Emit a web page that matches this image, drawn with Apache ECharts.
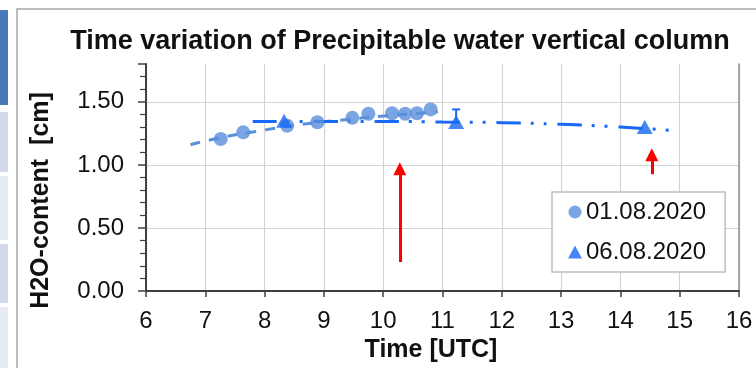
<!DOCTYPE html>
<html>
<head>
<meta charset="utf-8">
<script src="https://cdn.jsdelivr.net/npm/echarts@6/dist/echarts.min.js"></script>
<style>
  html, body { margin: 0; padding: 0; background: #fff; }
  #chart { width: 756px; height: 368px; }
</style>
</head>
<body>
<div id="chart"></div>
<script>
// 01.08.2020 measurements [time UTC, cm]
const day1Points = [
  [7.26, 1.205], [7.64, 1.258], [8.38, 1.31], [8.89, 1.338], [9.48, 1.373],
  [9.75, 1.405], [10.15, 1.41], [10.37, 1.405], [10.57, 1.41], [10.80, 1.44]
]
// 06.08.2020 measurements
const day2Points = [[8.33, 1.35], [11.23, 1.34], [14.41, 1.30]]
// error bar on 06.08 [x, low, high]
const day2Errors = [[11.23, 1.34, 1.44]]
// trend lines
const day1Trend = [
  [6.75, 1.16], [7.2, 1.21], [7.85, 1.265], [8.6, 1.32], [9.4, 1.36],
  [10.2, 1.395], [10.92, 1.42]
]
const day2Trend = [
  [7.8, 1.345], [9, 1.345], [10, 1.345], [11, 1.34], [12, 1.335],
  [13, 1.322], [14, 1.30], [14.9, 1.272]
]
// red annotation arrows [x, from, to] (to = where the head is centred)
const arrows = [[10.28, 0.23, 0.97], [14.53, 0.926, 1.08]]

const legendNames = ['01.08.2020', '06.08.2020']
const c1 = '#5a8fdb'
const c2 = '#1668f5'
const font = 'Liberation Sans, Arial, sans-serif'

const chart = echarts.init(document.getElementById('chart'), null, { renderer: 'canvas' })

const option = {
  animation: false,
  backgroundColor: '#fff',
  textStyle: { fontFamily: font },
  graphic: [
    // side panel strips from the slide
    { type: 'rect', shape: { x: 0, y: 10, width: 8, height: 95 }, style: { fill: '#4a79b8' }, silent: true },
    { type: 'rect', shape: { x: 0, y: 112, width: 8, height: 60 }, style: { fill: '#d2dae9' }, silent: true },
    { type: 'rect', shape: { x: 0, y: 176, width: 8, height: 64 }, style: { fill: '#e5eaf3' }, silent: true },
    { type: 'rect', shape: { x: 0, y: 244, width: 8, height: 59 }, style: { fill: '#d2dae9' }, silent: true },
    { type: 'rect', shape: { x: 0, y: 307, width: 8, height: 61 }, style: { fill: '#e5eaf3' }, silent: true },
    // chart frame
    { type: 'rect', shape: { x: 17, y: 9, width: 800, height: 400 }, style: { fill: 'none', stroke: '#a6a6a6', lineWidth: 1.5 }, silent: true, z: -1 }
  ],
  title: {
    text: 'Time variation of Precipitable water vertical column',
    left: 395,
    top: 23,
    textAlign: 'center',
    textStyle: { fontFamily: font, fontSize: 27, fontWeight: 'bold', color: '#111' }
  },
  legend: {
    data: legendNames,
    orient: 'vertical',
    left: 552,
    top: 192,
    padding: [8, 19, 8, 16],
    itemGap: 16,
    itemWidth: 14,
    itemHeight: 13,
    itemStyle: { borderWidth: 0 },
    backgroundColor: '#fff',
    borderColor: '#bfbfbf',
    borderWidth: 1.5,
    textStyle: { fontFamily: font, fontSize: 24, color: '#111', padding: [0, 0, 0, -1] }
  },
  grid: { left: 146, right: 17, top: 64, bottom: 77 },
  xAxis: {
    type: 'value',
    min: 6,
    max: 16,
    interval: 1,
    name: 'Time [UTC]',
    nameLocation: 'middle',
    nameGap: 45,
    nameTextStyle: { fontFamily: font, fontSize: 25, fontWeight: 'bold', color: '#111', padding: [0, 23, 0, 0] },
    axisLine: { show: true, onZero: false, lineStyle: { color: '#404040', width: 2 } },
    axisTick: { show: true, length: 6, lineStyle: { color: '#404040', width: 1.5 } },
    axisLabel: { margin: 18, fontFamily: font, fontSize: 24, color: '#111' },
    splitLine: { show: true, lineStyle: { color: '#d4d4d4', width: 1.2 } }
  },
  yAxis: [{
    type: 'value',
    min: 0,
    max: 1.8,
    interval: 0.5,
    name: 'H2O-content  [cm]',
    nameLocation: 'middle',
    nameGap: 92,
    nameTextStyle: { fontFamily: font, fontSize: 25, fontWeight: 'bold', color: '#111', padding: [0, 46, 0, 0] },
    axisLine: { show: true, lineStyle: { color: '#404040', width: 2 } },
    axisTick: { show: true, length: 8, lineStyle: { color: '#404040', width: 1.5 } },
    minorTick: { show: true, splitNumber: 5, length: 6, lineStyle: { color: '#404040', width: 1.2 } },
    axisLabel: { margin: 22, fontFamily: font, fontSize: 24, color: '#111', showMaxLabel: false, formatter: v => v.toFixed(2) },
    splitLine: { show: true, showMaxLine: false, lineStyle: { color: '#d4d4d4', width: 1.2 } }
  }, {
    // right border of the plot
    type: 'value',
    position: 'right',
    min: 0,
    max: 1.8,
    axisLine: { show: true, lineStyle: { color: '#8c8c8c', width: 1.5 } },
    axisTick: { show: false },
    axisLabel: { show: false },
    splitLine: { show: false }
  }],
  series: [
    {
      name: 'trend1',
      type: 'line',
      data: day1Trend,
      smooth: true,
      showSymbol: false,
      lineStyle: { color: c1, width: 3, type: [10, 9] },
      z: 2,
      silent: true
    },
    {
      name: 'trend2',
      type: 'line',
      data: day2Trend,
      smooth: true,
      showSymbol: false,
      lineStyle: { color: c2, width: 3, type: [24, 10, 3, 10, 3, 11] },
      z: 2,
      silent: true
    },
    {
      name: 'err2',
      type: 'custom',
      data: day2Errors,
      renderItem: (params, api) => {
        const lo = api.coord([api.value(0), api.value(1)])
        const hi = api.coord([api.value(0), api.value(2)])
        const style = { stroke: c2, lineWidth: 2 }
        return {
          type: 'group',
          children: [
            { type: 'line', shape: { x1: lo[0], y1: lo[1], x2: hi[0], y2: hi[1] }, style },
            { type: 'line', shape: { x1: hi[0] - 4, y1: hi[1], x2: hi[0] + 4, y2: hi[1] }, style }
          ]
        }
      },
      z: 3,
      silent: true
    },
    {
      name: legendNames[0],
      type: 'scatter',
      data: day1Points,
      symbol: 'circle',
      symbolSize: 14,
      itemStyle: { color: c1 },
      z: 4
    },
    {
      name: legendNames[1],
      type: 'scatter',
      data: day2Points,
      symbol: 'triangle',
      symbolSize: [16, 14],
      itemStyle: { color: c2 },
      z: 5
    },
    {
      name: 'arrows',
      type: 'line',
      data: [],
      markLine: {
        silent: true,
        animation: false,
        symbol: ['none', 'triangle'],
        symbolSize: [13, 13],
        label: { show: false },
        lineStyle: { color: '#ff0000', width: 3, type: 'solid' },
        data: arrows.map(a => [{ coord: [a[0], a[1]] }, { coord: [a[0], a[2]] }])
      }
    }
  ]
}

chart.setOption(option)
</script>
</body>
</html>
